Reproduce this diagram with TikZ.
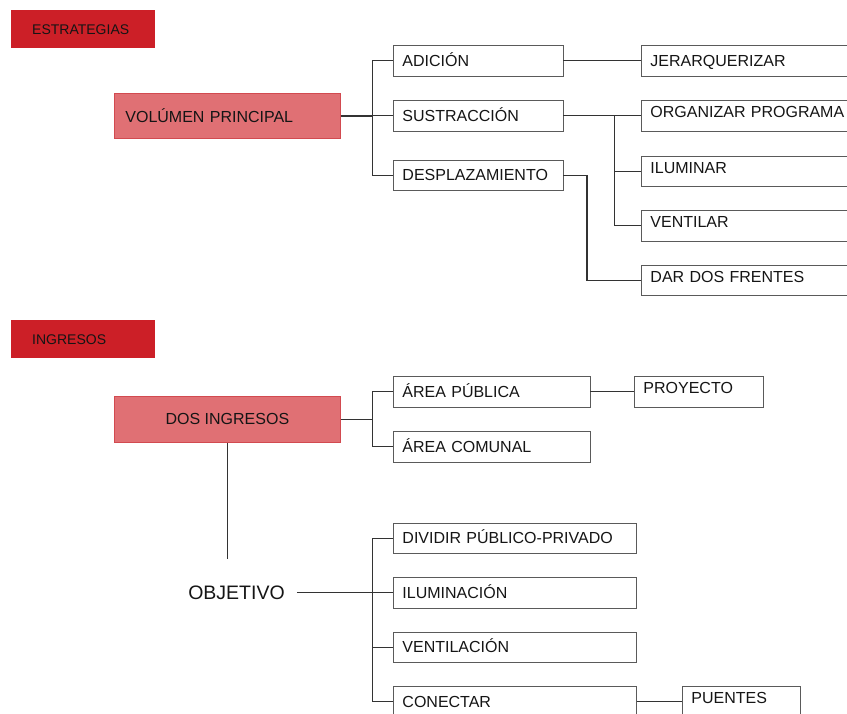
\documentclass[tikz,border=0pt]{standalone}
\usepackage{fontspec}
\setmainfont{Liberation Sans}
\definecolor{rojo}{HTML}{CC1F27}
\definecolor{rosa}{HTML}{E07074}
\definecolor{borde}{HTML}{D24A50}
\definecolor{linea}{HTML}{333333}
\definecolor{gris}{HTML}{5A5A5A}
\definecolor{texto}{HTML}{151515}

\begin{document}
\begin{tikzpicture}[x=1pt,y=-1pt,
	titulo/.style={anchor=north west,fill=rojo,minimum width=144pt,minimum height=38pt,text width=102pt,inner xsep=21pt,align=left,text=texto,font=\fontsize{14}{16}\selectfont},
	principal/.style={anchor=north west,fill=rosa,draw=borde,line width=.8pt,minimum width=226pt,minimum height=#1,text=texto,font=\fontsize{16}{19}\selectfont},
	caja/.style={anchor=north west,draw=gris,fill=white,line width=.9pt,inner xsep=9.5pt,text width=#1,align=left,minimum height=30.5pt,text height=12pt,text depth=.5pt,text=texto,font=\fontsize{16}{19}\selectfont},
	cajaalta/.style={caja=#1,text height=11.5pt,text depth=7pt},
	linea/.style={draw=linea,line width=1.2pt}]
	\useasboundingbox (0,0) rectangle (847,713);

	% estrategias
	\node[titulo] (estr) at (11,10) {ESTRATEGIAS};
	\node[principal=45pt,text width=204pt,inner xsep=11pt,align=left] (vp) at (114,93) {VOLÚMEN PRINCIPAL};
	\node[caja=151pt] (adi) at (392.5,45) {ADICIÓN};
	\node[caja=151pt] (sus) at (392.5,100) {SUSTRACCIÓN};
	\node[caja=151pt] (des) at (392.5,159.5) {DESPLAZAMIENTO};
	\node[caja=211pt] (jer) at (640.5,45) {JERARQUERIZAR};
	\node[cajaalta=211pt] (org) at (640.5,100) {ORGANIZAR PROGRAMA};
	\node[cajaalta=211pt] (ilu) at (640.5,155.5) {ILUMINAR};
	\node[cajaalta=211pt] (ven) at (640.5,210) {VENTILAR};
	\node[cajaalta=211pt] (dar) at (640.5,264.5) {DAR DOS FRENTES};

	\draw[linea] (vp.east) -- ++(32,0) coordinate (j1) |- (sus.west);
	\draw[linea] (j1) |- (adi.west);
	\draw[linea] (j1) |- (des.west);
	\draw[linea] (adi.east) -- (jer.west);
	\draw[linea] (sus.east) -- ++(51,0) coordinate (j2) |- (org.west);
	\draw[linea] (j2) |- (ilu.west);
	\draw[linea] (j2) |- (ven.west);
	\draw[linea] (des.east) -- ++(23.5,0) |- (dar.west);

	% ingresos
	\node[titulo] (ingr) at (11,320) {INGRESOS};
	\node[principal=46pt] (dos) at (114,396) {DOS INGRESOS};
	\node[caja=178pt] (apub) at (392.5,376) {ÁREA PÚBLICA};
	\node[caja=178pt] (acom) at (392.5,431) {ÁREA COMUNAL};
	\node[cajaalta=110pt] (proy) at (633.5,376) {PROYECTO};

	\coordinate (j3) at (dos.east -| j1);
	\draw[linea] (dos.east) -- (j3);
	\draw[linea] (j3) |- (apub.west);
	\draw[linea] (j3) |- (acom.west);
	\draw[linea] (apub.east) -- (proy.west);

	% objetivo
	\draw[linea] (dos.south) -- ++(0,115.7) coordinate (fin);
	\node[text=texto,inner xsep=12pt,font=\fontsize{19.5}{22}\selectfont] (obj) at (236.5,592.7) {OBJETIVO};
	\node[caja=224.5pt] (div) at (392.5,522.5) {DIVIDIR PÚBLICO-PRIVADO};
	\node[caja=224.5pt] (ilum) at (392.5,577) {ILUMINACIÓN};
	\node[caja=224.5pt] (vent) at (392.5,631.5) {VENTILACIÓN};
	\node[caja=224.5pt] (con) at (392.5,686) {CONECTAR};
	\node[cajaalta=99.5pt] (pue) at (681.5,686) {PUENTES};

	\coordinate (j4) at (obj.east -| j1);
	\draw[linea] (obj.east) -- (j4) |- (ilum.west);
	\draw[linea] (j4) |- (div.west);
	\draw[linea] (j4) |- (vent.west);
	\draw[linea] (j4) |- (con.west);
	\draw[linea] (con.east) -- (pue.west);
\end{tikzpicture}
\end{document}
